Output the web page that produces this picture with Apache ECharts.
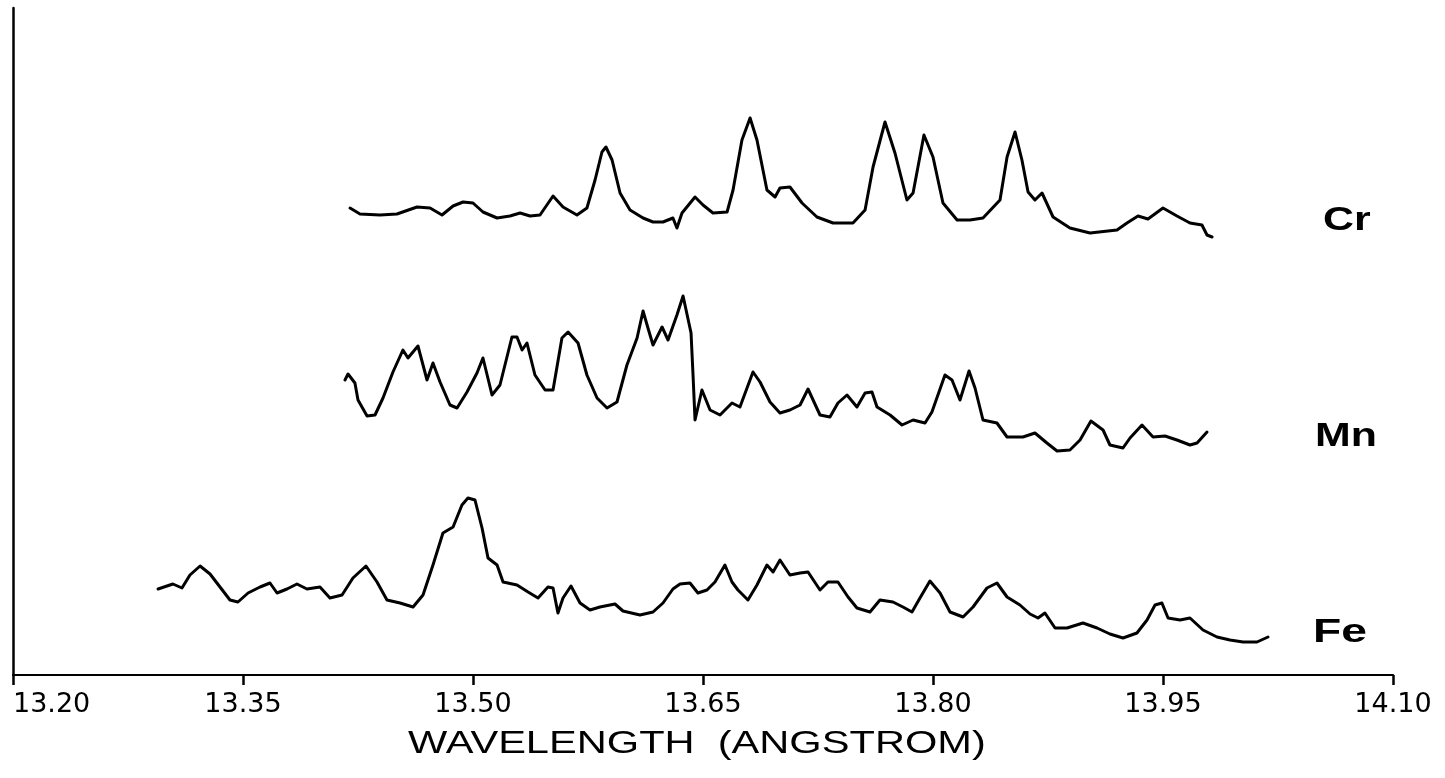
<!DOCTYPE html>
<html>
<head>
<meta charset="utf-8">
<script src="https://cdn.jsdelivr.net/npm/echarts@6/dist/echarts.min.js"></script>
<style>
html,body{margin:0;padding:0;background:#fff;}
#chart{width:1445px;height:778px;}
</style>
</head>
<body>
<div id="chart"></div>
<script>
// Wavelength (Angstrom) vs. relative intensity (arbitrary units, traces stacked)
const xTicks = [13.20, 13.35, 13.50, 13.65, 13.80, 13.95, 14.10];
const seriesNames = ['Cr', 'Mn', 'Fe'];
const axisTitle = 'WAVELENGTH  (ANGSTROM)';

const crData = [[13.4198,467],[13.4263,461],[13.4393,460],[13.4504,461],[13.4635,468],[13.4720,467],[13.4798,460],[13.4870,469],[13.4935,473],[13.5000,472],[13.5065,463],[13.5157,457],[13.5241,459],[13.5307,462],[13.5372,459],[13.5437,460],[13.5522,479],[13.5587,468],[13.5678,460],[13.5743,467],[13.5796,495],[13.5841,523],[13.5867,528],[13.5907,515],[13.5959,482],[13.6024,465],[13.6109,457],[13.6174,453],[13.6239,453],[13.6304,457],[13.6330,447],[13.6363,462],[13.6448,478],[13.6500,470],[13.6565,462],[13.6657,463],[13.6696,485],[13.6754,535],[13.6807,557],[13.6852,535],[13.6917,485],[13.6970,478],[13.7002,487],[13.7067,488],[13.7146,472],[13.7243,458],[13.7348,452],[13.7478,452],[13.7557,465],[13.7609,508],[13.7687,553],[13.7752,522],[13.7830,475],[13.7870,482],[13.7941,540],[13.8000,518],[13.8065,472],[13.8157,455],[13.8241,455],[13.8326,457],[13.8437,475],[13.8483,518],[13.8535,543],[13.8580,515],[13.8620,483],[13.8665,475],[13.8711,482],[13.8783,458],[13.8893,447],[13.9024,442],[13.9200,445],[13.9265,452],[13.9337,459],[13.9402,456],[13.9500,467],[13.9591,459],[13.9676,452],[13.9754,450],[13.9787,440],[13.9820,438]];

const mnData = [[13.4165,295],[13.4185,301],[13.4230,292],[13.4250,275],[13.4309,259],[13.4361,260],[13.4413,277],[13.4478,303],[13.4543,325],[13.4576,317],[13.4641,329],[13.4700,295],[13.4739,312],[13.4785,293],[13.4850,270],[13.4896,267],[13.4961,283],[13.5026,302],[13.5065,317],[13.5124,280],[13.5176,290],[13.5254,338],[13.5287,338],[13.5320,325],[13.5352,332],[13.5404,300],[13.5470,285],[13.5522,285],[13.5580,337],[13.5620,343],[13.5685,332],[13.5743,300],[13.5809,277],[13.5874,267],[13.5939,273],[13.6004,310],[13.6070,337],[13.6109,364],[13.6141,347],[13.6174,330],[13.6233,348],[13.6272,335],[13.6330,360],[13.6370,379],[13.6422,342],[13.6435,300],[13.6448,255],[13.6493,285],[13.6546,265],[13.6611,260],[13.6689,272],[13.6741,268],[13.6826,303],[13.6872,293],[13.6937,273],[13.7002,262],[13.7067,265],[13.7133,270],[13.7185,286],[13.7263,260],[13.7328,258],[13.7380,272],[13.7439,280],[13.7504,268],[13.7557,282],[13.7602,283],[13.7635,268],[13.7720,260],[13.7798,250],[13.7870,255],[13.7948,252],[13.7993,263],[13.8078,300],[13.8124,295],[13.8176,275],[13.8235,304],[13.8274,287],[13.8326,255],[13.8417,252],[13.8483,238],[13.8587,238],[13.8665,242],[13.8743,232],[13.8809,224],[13.8893,225],[13.8959,235],[13.9030,254],[13.9109,245],[13.9154,230],[13.9239,227],[13.9285,237],[13.9363,250],[13.9435,238],[13.9513,239],[13.9591,235],[13.9676,230],[13.9722,232],[13.9787,243]];

const feData = [[13.2946,86],[13.3043,91],[13.3102,87],[13.3154,100],[13.3220,109],[13.3285,101],[13.3350,88],[13.3415,75],[13.3467,73],[13.3533,82],[13.3611,88],[13.3676,92],[13.3722,82],[13.3787,86],[13.3852,91],[13.3917,86],[13.4002,88],[13.4067,77],[13.4146,80],[13.4217,97],[13.4302,109],[13.4374,93],[13.4439,75],[13.4524,72],[13.4609,68],[13.4674,80],[13.4739,110],[13.4804,142],[13.4870,148],[13.4928,170],[13.4967,177],[13.5013,175],[13.5059,147],[13.5098,117],[13.5157,110],[13.5196,93],[13.5287,90],[13.5359,83],[13.5424,77],[13.5489,88],[13.5522,87],[13.5554,62],[13.5587,77],[13.5639,89],[13.5698,72],[13.5763,65],[13.5828,68],[13.5926,71],[13.5978,64],[13.6089,60],[13.6174,63],[13.6239,72],[13.6304,86],[13.6350,91],[13.6415,92],[13.6467,82],[13.6526,85],[13.6578,93],[13.6643,110],[13.6689,93],[13.6728,85],[13.6793,75],[13.6852,90],[13.6917,110],[13.6957,103],[13.7002,115],[13.7067,100],[13.7133,102],[13.7185,103],[13.7263,85],[13.7315,93],[13.7380,93],[13.7446,78],[13.7504,67],[13.7589,63],[13.7654,75],[13.7739,73],[13.7804,68],[13.7863,63],[13.7915,77],[13.7980,94],[13.8046,82],[13.8111,63],[13.8196,58],[13.8261,68],[13.8352,87],[13.8417,92],[13.8483,78],[13.8567,70],[13.8633,61],[13.8685,57],[13.8730,62],[13.8796,47],[13.8874,47],[13.8978,52],[13.9070,47],[13.9154,41],[13.9239,37],[13.9330,42],[13.9396,55],[13.9448,70],[13.9493,72],[13.9533,57],[13.9611,55],[13.9676,57],[13.9761,45],[13.9852,38],[13.9937,35],[14.0022,33],[14.0113,33],[14.0185,38]];

const chart = echarts.init(document.getElementById('chart'), null, {renderer: 'canvas'});

function trace(name, data) {
  return {
    name: name,
    type: 'line',
    data: data,
    showSymbol: false,
    symbol: 'none',
    silent: true,
    lineStyle: {color: '#000', width: 3, join: 'round', cap: 'round'},
    z: 3
  };
}

const option = {
  backgroundColor: '#fff',
  animation: false,
  grid: {left: 13, right: 52, top: 8, bottom: 103, containLabel: false},
  xAxis: {
    type: 'value',
    min: xTicks[0],
    max: xTicks[xTicks.length - 1],
    interval: 0.15,
    axisLine: {show: true, onZero: false, lineStyle: {color: '#000', width: 2.2}},
    axisTick: {show: true, inside: false, length: 10, lineStyle: {color: '#000', width: 2.5}},
    splitLine: {show: false},
    axisLabel: {
      color: '#000',
      fontFamily: 'DejaVu Sans',
      fontSize: 27,
      margin: 16,
      showMinLabel: true,
      showMaxLabel: true,
      alignMinLabel: 'left',
      formatter: function (v) { return v.toFixed(2); }
    }
  },
  yAxis: {
    type: 'value',
    min: 0,
    max: 667,
    axisLine: {show: true, onZero: false, lineStyle: {color: '#000', width: 2.5}},
    axisTick: {show: false},
    axisLabel: {show: false},
    splitLine: {show: false}
  },
  series: [
    trace(seriesNames[0], crData),
    trace(seriesNames[1], mnData),
    trace(seriesNames[2], feData)
  ],
  graphic: [
    {type: 'text', x: 1323, y: 221, scaleX: 1.3, style: {text: seriesNames[0], fill: '#000', font: 'bold 33px "Liberation Sans", Arial, sans-serif', textAlign: 'left', textVerticalAlign: 'middle'}},
    {type: 'text', x: 1315, y: 437, scaleX: 1.3, style: {text: seriesNames[1], fill: '#000', font: 'bold 33px "Liberation Sans", Arial, sans-serif', textAlign: 'left', textVerticalAlign: 'middle'}},
    {type: 'text', x: 1313, y: 633, scaleX: 1.4, style: {text: seriesNames[2], fill: '#000', font: 'bold 33px "Liberation Sans", Arial, sans-serif', textAlign: 'left', textVerticalAlign: 'middle'}},
    {type: 'text', x: 408, y: 744, scaleX: 1.3, style: {text: axisTitle, fill: '#000', font: '32px "Liberation Sans", Arial, sans-serif', textAlign: 'left', textVerticalAlign: 'middle'}}
  ]
};
chart.setOption(option);
</script>
</body>
</html>
